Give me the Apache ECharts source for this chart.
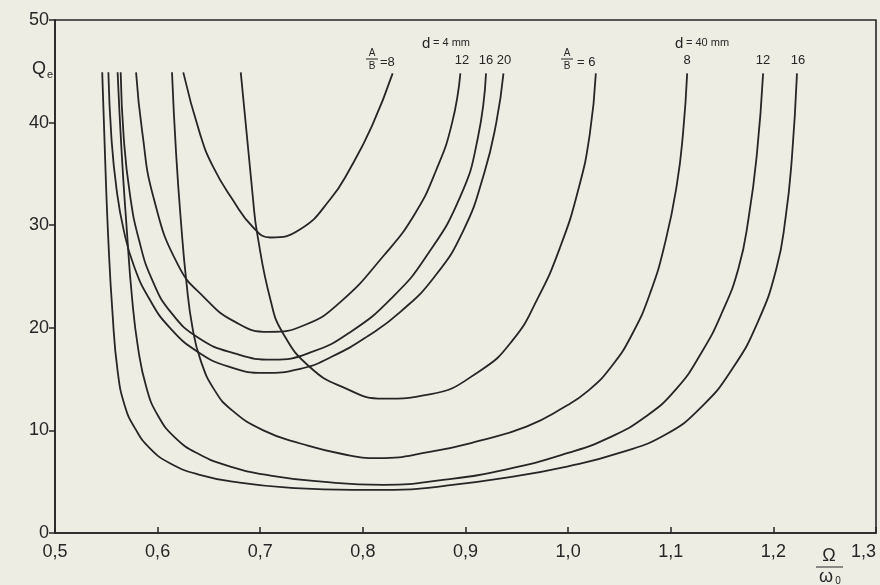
<!DOCTYPE html>
<html>
<head>
<meta charset="utf-8">
<script src="https://cdn.jsdelivr.net/npm/echarts@6/dist/echarts.min.js"></script>
<style>
html,body{margin:0;padding:0;background:#eeede4;}
#c{width:880px;height:585px;}
</style>
</head>
<body>
<div id="c"></div>
<script>
// Q_e versus Omega/omega0 ; d = 4 mm curves (A/B = 8, 12, 16, 20)
const d4_AB8  = [[0.625,44.9],[0.641,39.0],[0.654,35.7],[0.673,32.5],[0.693,29.8],[0.710,28.8],[0.739,29.6],[0.768,32.5],[0.788,35.6],[0.809,39.7],[0.829,44.8]];
const d4_AB12 = [[0.579,44.9],[0.585,39.1],[0.596,32.7],[0.620,26.1],[0.646,22.9],[0.675,20.6],[0.708,19.6],[0.744,20.3],[0.778,22.5],[0.820,27.0],[0.850,31.0],[0.872,35.5],[0.887,40.0],[0.895,44.8]];
const d4_AB16 = [[0.564,44.9],[0.567,38.5],[0.573,33.0],[0.582,28.5],[0.595,24.6],[0.613,21.5],[0.640,19.0],[0.675,17.5],[0.712,16.9],[0.749,17.6],[0.788,19.6],[0.829,23.0],[0.862,27.0],[0.895,32.8],[0.912,38.5],[0.920,44.8]];
const d4_AB20 = [[0.552,44.9],[0.555,38.5],[0.560,33.5],[0.567,29.5],[0.577,26.0],[0.592,22.8],[0.612,20.0],[0.640,17.6],[0.670,16.2],[0.703,15.6],[0.739,16.0],[0.770,17.2],[0.805,19.2],[0.836,21.5],[0.870,25.0],[0.898,29.5],[0.918,35.0],[0.930,40.0],[0.937,44.8]];
// d = 40 mm curves (A/B = 6, 8, 12, 16)
const d40_AB6  = [[0.681,44.9],[0.693,32.5],[0.697,29.2],[0.710,22.7],[0.722,19.5],[0.748,16.2],[0.781,14.2],[0.820,13.1],[0.865,13.5],[0.914,15.8],[0.946,18.8],[0.970,22.8],[0.992,27.8],[1.010,33.5],[1.021,38.8],[1.027,44.8]];
const d40_AB8  = [[0.614,44.9],[0.618,37.0],[0.623,30.0],[0.628,24.5],[0.634,20.0],[0.642,16.8],[0.655,14.0],[0.672,12.0],[0.703,10.0],[0.740,8.7],[0.780,7.7],[0.815,7.3],[0.865,7.9],[0.914,9.0],[0.960,10.4],[0.995,12.2],[1.020,13.9],[1.042,16.2],[1.062,19.3],[1.080,23.4],[1.095,28.5],[1.106,34.0],[1.112,39.0],[1.116,44.8]];
const d40_AB12 = [[0.561,44.9],[0.565,37.0],[0.570,29.5],[0.575,23.0],[0.581,18.0],[0.589,14.2],[0.600,11.5],[0.617,9.3],[0.640,7.7],[0.670,6.5],[0.710,5.6],[0.760,5.0],[0.820,4.7],[0.880,5.2],[0.940,6.2],[1.000,7.8],[1.040,9.3],[1.075,11.3],[1.105,14.0],[1.130,17.6],[1.150,21.5],[1.166,25.8],[1.176,30.8],[1.184,37.0],[1.190,44.8]];
const d40_AB16 = [[0.546,44.9],[0.549,36.0],[0.552,28.5],[0.556,21.5],[0.561,15.8],[0.568,12.4],[0.578,10.2],[0.592,8.3],[0.612,6.8],[0.640,5.7],[0.680,4.9],[0.730,4.4],[0.790,4.2],[0.830,4.2],[0.880,4.6],[0.940,5.4],[1.000,6.5],[1.050,7.8],[1.095,9.6],[1.130,12.3],[1.160,16.0],[1.185,20.6],[1.203,25.8],[1.212,30.8],[1.218,36.5],[1.223,44.8]];

const seriesNames = ['d=4mm A/B=8','d=4mm A/B=12','d=4mm A/B=16','d=4mm A/B=20','d=40mm A/B=6','d=40mm A/B=8','d=40mm A/B=12','d=40mm A/B=16'];
const seriesData  = [d4_AB8, d4_AB12, d4_AB16, d4_AB20, d40_AB6, d40_AB8, d40_AB12, d40_AB16];

const xMin = 0.5, xMax = 1.3, xStep = 0.1;
const yMin = 0, yMax = 50, yStep = 10;

const INK = '#262626';
const FONT = 'Liberation Sans';

const chart = echarts.init(document.getElementById('c'), null, {renderer:'canvas'});

const series = seriesData.map((d, i) => ({
  name: seriesNames[i],
  type: 'line',
  data: d,
  showSymbol: false,
  smooth: 0.5,
  lineStyle: {color: INK, width: 1.8},
  silent: true,
  z: 3
}));

function txt(x, y, s, size, align) {
  return {type:'text', x:x, y:y, style:{text:s, fill:INK, font: size+'px "'+FONT+'"', align: align||'center', verticalAlign:'middle'}};
}
function bar(x1, x2, y) {
  return {type:'line', shape:{x1:x1, y1:y, x2:x2, y2:y}, style:{stroke:INK, lineWidth:1}};
}

chart.setOption({
  backgroundColor: '#eeede4',
  animation: false,
  grid: {left:55, right:4, top:20, bottom:52, containLabel:false, outerBoundsMode:'none',
         show:true, borderColor:INK, borderWidth:1.6, backgroundColor:'transparent'},
  xAxis: {
    type:'value', min:xMin, max:xMax, interval:xStep,
    axisLine:{show:true, lineStyle:{color:INK, width:1.6}},
    axisTick:{show:true, inside:true, length:6, lineStyle:{color:INK, width:1.5}},
    splitLine:{show:false},
    axisLabel:{color:INK, fontFamily:FONT, fontSize:18, margin:10, alignMaxLabel:'right',
      formatter: v => v.toFixed(1).replace('.', ',')}
  },
  yAxis: {
    type:'value', min:yMin, max:yMax, interval:yStep,
    axisLine:{show:true, lineStyle:{color:INK, width:1.6}},
    axisTick:{show:true, inside:false, length:6, lineStyle:{color:INK, width:1.5}},
    splitLine:{show:false},
    axisLabel:{color:INK, fontFamily:FONT, fontSize:18, margin:6}
  },
  series: series,
  graphic: [
    // Q_e
    txt(39, 69, 'Q', 18),
    txt(50, 75, 'e', 11),
    // Omega / omega0
    txt(829, 556, 'Ω', 18),
    bar(816, 843, 567),
    txt(826, 577, 'ω', 18),
    txt(838, 581, '0', 10),
    // d = 4 mm group
    txt(422, 44, 'd', 15, 'left'),
    txt(433, 43, '= 4 mm', 11, 'left'),
    txt(372, 53, 'A', 10),
    bar(366, 378, 59),
    txt(372, 66, 'B', 10),
    txt(380, 62, '=8', 13, 'left'),
    txt(462, 60, '12', 13),
    txt(486, 60, '16', 13),
    txt(504, 60, '20', 13),
    // A/B = 6
    txt(567, 53, 'A', 10),
    bar(561, 573, 59),
    txt(567, 66, 'B', 10),
    txt(577, 62, '= 6', 13, 'left'),
    // d = 40 mm group
    txt(675, 44, 'd', 15, 'left'),
    txt(686, 43, '= 40 mm', 11, 'left'),
    txt(687, 60, '8', 13),
    txt(763, 60, '12', 13),
    txt(798, 60, '16', 13)
  ]
});
</script>
</body>
</html>
